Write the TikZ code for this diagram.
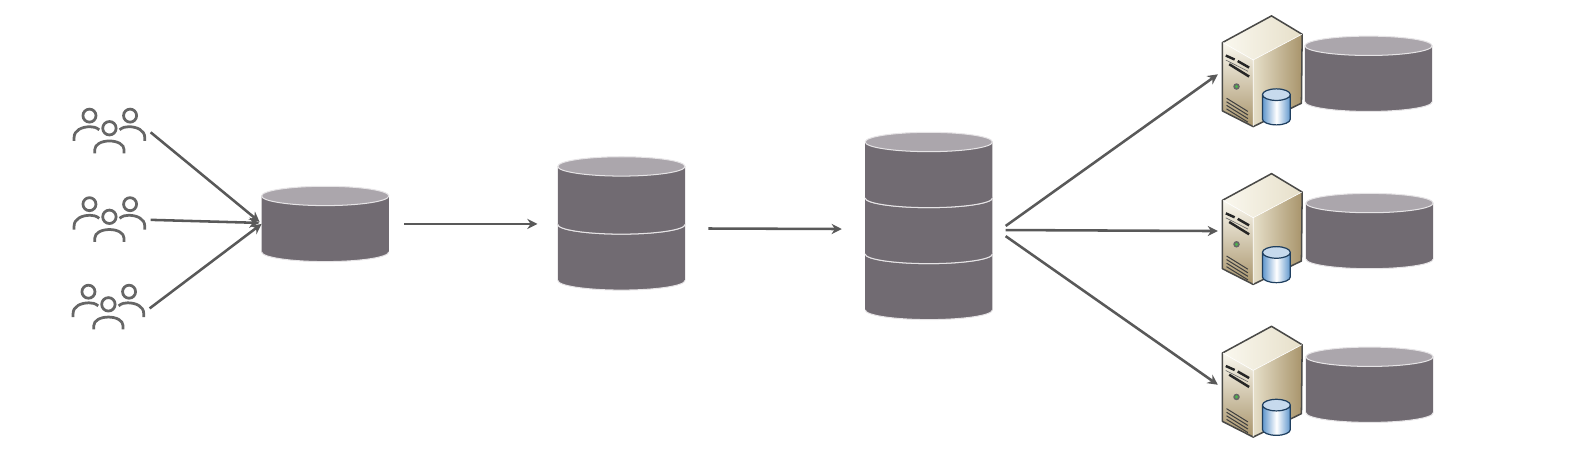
\documentclass[tikz,border=0pt]{standalone}
\usepackage{tikz}
\usetikzlibrary{positioning,fit,arrows.meta}
\definecolor{dbbody}{HTML}{716B72}
\definecolor{dbtop}{HTML}{ABA6AC}
\definecolor{dbrim}{HTML}{E6E4E6}
\definecolor{linegray}{HTML}{595959}
\definecolor{icongray}{HTML}{666666}
\definecolor{srvline}{HTML}{4A4A48}
\definecolor{srvlight}{HTML}{FAF8EF}
\definecolor{srvmid}{HTML}{E6DFC9}
\definecolor{srvtan}{HTML}{A8946B}
\definecolor{minidb}{HTML}{5F96CC}
\definecolor{minirim}{HTML}{1F3F5F}
\tikzset{
  iconbox/.style={minimum width=#1, inner sep=0pt, outer sep=0pt},
  dbbox/.style={iconbox=125pt, minimum height=#1},
  dbbox/.default=74pt,
  usersbox/.style={iconbox=77pt, minimum height=44pt},
  serverbox/.style={iconbox=79pt, minimum height=109pt},
  pics/dbcan/.style={code={
    \fill [dbbody] (-62.5,-#1) -- (-62.5,#1) arc [start angle=180, end angle=0, x radius=62.5, y radius=9.5] -- (62.5,-#1) -- cycle;
    \draw [dbrim, line width=1pt] (-62.5,#1) arc [start angle=180, end angle=0, x radius=62.5, y radius=9.5];
    \draw [dbrim, line width=1pt, fill=dbtop] (0,-#1) ellipse [x radius=62.5, y radius=9.5];
  }},
  pics/dbcan/.default=27.5,
  pics/usersicon/.style={code={
    \draw [icongray, line width=2.7pt] (-19.6,-15.4) circle (6.4) (20.3,-15.4) circle (6.4);
    \draw [icongray, line width=2.7pt] (-34.7,9.5) -- (-34.7,6) .. controls (-34.7,-1) and (-27,-4.5) .. (-19,-4.5) .. controls (-16,-4.5) and (-13,-4) .. (-10,-1.5);
    \draw [icongray, line width=2.7pt] (34.7,9.5) -- (34.7,6) .. controls (34.7,-1) and (27,-4.5) .. (19,-4.5) .. controls (16,-4.5) and (13,-4) .. (10,-1.5);
    \draw [icongray, line width=2.7pt] (0,-3) circle (6.6);
    \draw [icongray, line width=2.7pt] (-14.4,21.6) -- (-14.4,18) .. controls (-14.4,13) and (-8,9.5) .. (0,9.5) .. controls (8,9.5) and (14.4,13) .. (14.4,18) -- (14.4,21.6);
  }},
  pics/servericon/.style={code={
    \shade [left color=srvlight, right color=srvmid] (9.2,-54.4) -- (39.3,-36.3) -- (-8.8,-11.1) -- (-39,-28.2) -- cycle;
    \shade [left color=srvmid, middle color=srvlight, right color=srvtan] (-8.8,-11.1) -- (39.3,-36.3) -- (38.6,31.4) -- (-8.8,54.4) -- cycle;
    \shade [shading angle=165, top color=srvlight, middle color=srvmid, bottom color=srvtan] (-39,-28.2) -- (-8.8,-11.1) -- (-8.8,54.4) -- (-39,39) -- cycle;
    \draw [srvline, line width=1.5pt, line join=round] (-39,-28.2) -- (9.2,-54.4) -- (39.3,-36.3) -- (38.6,31.4) -- (-8.8,54.4) -- (-39,39) -- cycle;
    \draw [white, line width=0.6pt] (-38.5,-28.2) -- (-8.8,-11.1) -- (39,-36.3) (-8.8,-11.1) -- (-8.8,54);
    \draw [black!85, line width=2.4pt] (-35.7,-15.4) -- (-27,-11.5) (-24,-10) -- (-12.8,-3.6);
    \draw [black!85, line width=2.4pt] (-32.4,-6.9) -- (-12.8,5.2);
    \draw [black!60, line width=0.6pt] (-35.7,-11) -- (-14,0);
    \fill [black!60] (-25.2,15) circle (3.2);
    \fill [green!40!gray] (-25.2,15) circle (1.7);
    \foreach \vy in {26.5,30,33.5,37}
      \draw [black!75, line width=1pt] (-35,\vy) -- (-14,\vy+13);
    \shade [left color=minidb, right color=minidb, middle color=white] (0.3,23) -- (0.3,47) arc [start angle=180, end angle=0, x radius=13.7, y radius=5.7] -- (27.7,23) -- cycle;
    \fill [minidb!35!white] (14,23) ellipse [x radius=13.7, y radius=5.7];
    \draw [minirim, line width=1.2pt] (0.3,23) -- (0.3,47) arc [start angle=180, end angle=0, x radius=13.7, y radius=5.7] -- (27.7,23) (14,23) ellipse [x radius=13.7, y radius=5.7];
  }},
}
\begin{document}
\begin{tikzpicture}[x=1pt, y=-1pt, >={Stealth[length=10pt,width=10pt]}]
\useasboundingbox (0,0) rectangle (1568,446);
\node [usersbox] (users_1) at (107.5,129) {};
\node [usersbox] (users_2) at (107.5,216) {};
\node [usersbox] (users_3) at (106.5,302) {};
\pic at (users_1) {usersicon};
\pic at (users_2) {usersicon};
\pic at (users_3) {usersicon};

\node [dbbox] (db_1) at (319.5,220) {};
\pic at (db_1) {dbcan};

\node [dbbox] (db_2_b) at (610.5,248) {};
\node [dbbox=76pt] (db_2_a) [above = -19pt of db_2_b] {};
\node [fit=(db_2_a)(db_2_b), inner sep=0pt, outer sep=0pt] (db_2) {};
\pic at (db_2_b) {dbcan};
\pic at (db_2_a) {dbcan=28.5};

\node [dbbox] (db_3_c) at (912.5,277) {};
\node [dbbox] (db_3_b) [above = -19pt of db_3_c] {};
\node [dbbox] (db_3_a) [above = -19pt of db_3_b] {};
\node [fit=(db_3_a)(db_3_c), inner sep=0pt, outer sep=0pt] (db_3) {};
\pic at (db_3_c) {dbcan};
\pic at (db_3_b) {dbcan};
\pic at (db_3_a) {dbcan};

\node [serverbox] (server_1) at (1240,70) {};
\node [serverbox] (server_2) at (1240,225) {};
\node [serverbox] (server_3) at (1240,375) {};
\node [dbbox] (store_1) [right = 2.5pt of server_1, yshift=-2.5pt] {};
\node [dbbox] (store_2) [right = 3.5pt of server_2, yshift=-2pt] {};
\node [dbbox] (store_3) [right = 3.5pt of server_3, yshift=-3pt] {};
\pic at (store_1) {dbcan};
\pic at (store_2) {dbcan};
\pic at (store_3) {dbcan};
\pic at (server_1) {servericon};
\pic at (server_2) {servericon};
\pic at (server_3) {servericon};

\path [->, linegray, line width=2.5pt]
([shift={(2,1)}]users_1.east) edge ([shift={(-2,-2)}]db_1.west)
([shift={(2,0)}]users_2.east) edge ([shift={(-2,-1)}]db_1.west)
([shift={(2,1)}]users_3.east) edge (db_1.west)
([shift={(15,0)}]db_1.east) edge ([shift={(-20,0)}]db_1.east -| db_2.west)
([shift={(23,5)}]db_2.east) edge ([shift={(-23,3)}]db_3.west)
([shift={(13,0)}]db_3.east) edge ([shift={(-4,3)}]server_1.west)
([shift={(13,4)}]db_3.east) edge ([shift={(-4,2)}]server_2.west)
([shift={(13,10)}]db_3.east) edge ([shift={(-4,3)}]server_3.west);
\end{tikzpicture}
\end{document}
